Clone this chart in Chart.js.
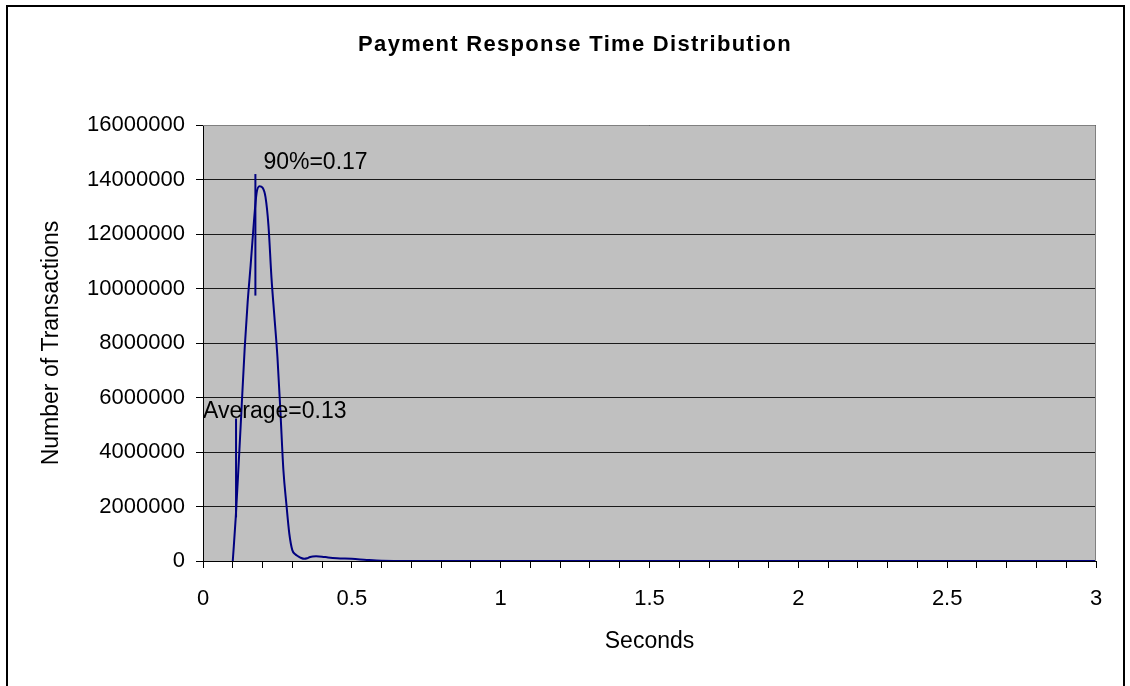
<!DOCTYPE html>
<html>
<head>
<meta charset="utf-8">
<script src="https://cdn.jsdelivr.net/npm/chart.js@4.4.1/dist/chart.umd.min.js"></script>
<style>
html,body{margin:0;padding:0;background:#fff;}
#wrap{position:relative;width:1130px;height:686px;}
</style>
</head>
<body>
<div id="wrap"><canvas id="c" width="1130" height="686"></canvas></div>
<script>
// ---- data ----
const chartTitle = 'Payment Response Time Distribution';
const xAxisTitle = 'Seconds';
const yAxisTitle = 'Number of Transactions';

const seconds = [0.10,0.11,0.12,0.13,0.14,0.15,0.16,0.17,0.18,0.19,0.20,0.21,0.22,0.23,0.24,0.25,0.26,0.27,0.28,0.29,0.30,0.31,0.32,0.33,0.34,0.35,0.36,0.38,0.40,0.42,0.45,0.50,0.55,0.60,0.70,0.80,0.90,1.00,1.25,1.50,1.75,2.00,2.25,2.50,2.75,3.00];
const transactions = [0,1600000,3600000,5700000,7800000,9500000,10850000,12300000,13500000,13750000,13700000,13350000,12300000,10400000,8950000,7500000,5500000,3350000,2100000,1000000,400000,250000,170000,110000,80000,100000,150000,170000,160000,130000,100000,80000,40000,10000,0,0,0,0,0,0,0,0,0,0,0,0];

const averageX = [0.111, 0.111];
const averageY = [1600000, 5230000];
const p90X = [0.176, 0.176];
const p90Y = [9740000, 14200000];
const markerLabels = ['Average=0.13', '90%=0.17'];

const xLabelValues = [0, 0.5, 1, 1.5, 2, 2.5, 3];
const yMin = 0, yMax = 16000000, yStep = 2000000;
const xMin = 0, xMax = 3, xStep = 0.1;

// ---- chart ----
const FONT = '"Liberation Sans", Arial, Helvetica, sans-serif';
const toPts = (xs, ys) => xs.map((x, i) => ({x: x, y: ys[i]}));

const deco = {
  id: 'deco',
  beforeDraw(chart) {
    const {ctx, chartArea: a} = chart;
    ctx.save();
    ctx.fillStyle = '#ffffff';
    ctx.fillRect(0, 0, chart.width, chart.height);
    ctx.fillStyle = '#C0C0C0';
    ctx.fillRect(a.left, a.top, a.right - a.left, a.bottom - a.top);
    ctx.restore();
  },
  afterDraw(chart) {
    const {ctx, chartArea: a, scales} = chart;
    ctx.save();
    // plot frame (top/right grey)
    ctx.strokeStyle = '#808080';
    ctx.lineWidth = 1;
    ctx.beginPath();
    ctx.moveTo(a.left, a.top + 0.5);
    ctx.lineTo(a.right - 0.5, a.top + 0.5);
    ctx.lineTo(a.right - 0.5, a.bottom);
    ctx.stroke();
    // outer frame
    ctx.fillStyle = '#000000';
    ctx.fillRect(6, 5, 2, chart.height - 5);
    ctx.fillRect(6, 5, chart.width - 11, 2);
    ctx.fillRect(chart.width - 7, 5, 2, chart.height - 5);
    // title
    ctx.fillStyle = '#000000';
    ctx.font = 'bold 22px ' + FONT;
    try { ctx.letterSpacing = '1.3px'; } catch (e) {}
    ctx.textAlign = 'center';
    ctx.textBaseline = 'alphabetic';
    ctx.fillText(chartTitle, 575, 51);
    try { ctx.letterSpacing = '0px'; } catch (e) {}
    // marker labels
    ctx.font = '23px ' + FONT;
    ctx.textAlign = 'left';
    ctx.textBaseline = 'middle';
    const ax = scales.x.getPixelForValue(averageX[1]);
    const ay = scales.y.getPixelForValue(averageY[1]);
    ctx.fillText(markerLabels[0], ax - 33, ay - 7);
    const px = scales.x.getPixelForValue(p90X[1]);
    const py = scales.y.getPixelForValue(p90Y[1]);
    ctx.fillText(markerLabels[1], px + 8, py - 11);
    ctx.restore();
  }
};

const lineStyle = {
  borderColor: '#000080',
  borderWidth: 2,
  pointRadius: 0,
  fill: false
};

new Chart(document.getElementById('c'), {
  type: 'line',
  data: {
    datasets: [
      Object.assign({label: 'Transactions', data: toPts(seconds, transactions), cubicInterpolationMode: 'monotone'}, lineStyle),
      Object.assign({label: 'Average', data: toPts(averageX, averageY), tension: 0}, lineStyle),
      Object.assign({label: '90%', data: toPts(p90X, p90Y), tension: 0}, lineStyle)
    ]
  },
  options: {
    responsive: false,
    animation: false,
    layout: {padding: {top: 125, left: 30, right: 34, bottom: 20}},
    plugins: {legend: {display: false}, tooltip: {enabled: false}, title: {display: false}},
    scales: {
      x: {
        type: 'linear',
        min: xMin, max: xMax,
        afterFit(s) { s.height = 105; s.paddingLeft = 0; s.paddingRight = 0; },
        ticks: {
          stepSize: xStep, autoSkip: false, maxRotation: 0, padding: 18,
          color: '#000', font: {family: FONT, size: 22},
          callback(v) {
            const hit = xLabelValues.find(t => Math.abs(t - v) < 1e-6);
            return hit === undefined ? '' : String(hit);
          }
        },
        grid: {drawOnChartArea: false, drawTicks: true, tickLength: 7, color: '#000', tickColor: '#000'},
        border: {display: true, color: '#000', width: 1},
        title: {display: true, text: xAxisTitle, color: '#000', font: {family: FONT, size: 23}, padding: {top: 0, bottom: 11}}
      },
      y: {
        min: yMin, max: yMax,
        afterFit(s) { s.width = 173; s.paddingTop = 0; s.paddingBottom = 0; },
        ticks: {
          stepSize: yStep, padding: 11,
          color: '#000', font: {family: FONT, size: 22},
          callback(v) { return String(v); }
        },
        grid: {drawOnChartArea: true, drawTicks: true, tickLength: 7, color: '#1a1a1a', tickColor: '#000'},
        border: {display: true, color: '#000', width: 1},
        title: {display: true, text: yAxisTitle, color: '#000', font: {family: FONT, size: 23}, padding: {top: 8, bottom: 0}}
      }
    }
  },
  plugins: [deco]
});
</script>
</body>
</html>
